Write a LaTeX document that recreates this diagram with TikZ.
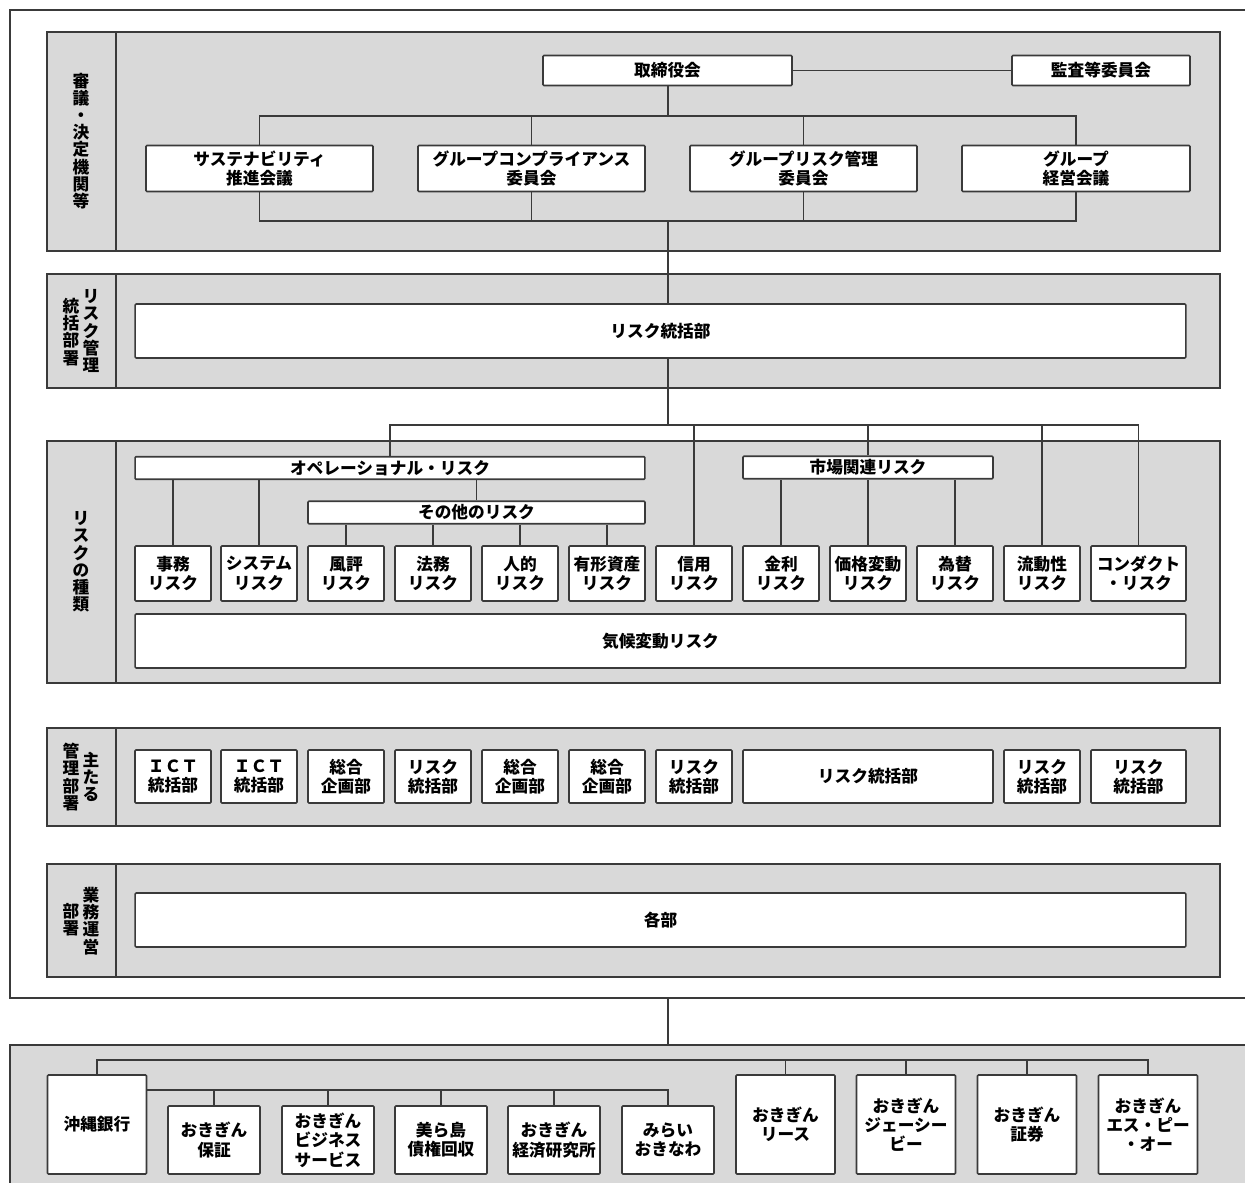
\documentclass[tikz,border=0pt]{standalone}
\usepackage{fontspec}
\setmainfont{Noto Sans CJK JP}
\usepackage{tikz}
\definecolor{bandgray}{HTML}{D9D9D9}
\definecolor{edge}{HTML}{3A3A3A}
\tikzset{
  band/.style={draw=edge, fill=bandgray, line width=0.9pt},
  link/.style={draw=edge, line width=0.7pt},
  box/.style={draw=edge, fill=white, line width=0.9pt, rounded corners=0.6pt, align=center, inner sep=0pt,
    font=\fontsize{9.5}{11}\selectfont\bfseries},
  tag/.style={align=center, inner sep=0pt, font=\fontsize{9.5}{9.8}\selectfont\bfseries},
  council/.style={box, minimum width=4.54cm, minimum height=0.92cm},
  small/.style={box, minimum width=1.52cm, minimum height=1.1cm},
  wide/.style={box, minimum width=21.02cm, minimum height=1.08cm},
  strip/.style={box, minimum height=0.45cm},
  firm/.style={box, minimum width=1.98cm, minimum height=1.98cm},
  sub/.style={box, minimum width=1.84cm, minimum height=1.36cm},
}
\begin{document}
\begin{tikzpicture}[x=0.02cm, y=-0.02cm]
  \useasboundingbox (0,0) rectangle (1245,1183);
  \clip (0,0) rectangle (1245,1183);
  \draw[link, line width=0.9pt] (1270,10) -| (10,998) -- (1270,998);
  \draw[band] (10,1045) rectangle (1270,1210);
  \foreach \ya/\yb in {32/251, 274/388, 441/683, 728/826, 864/977} {
    \draw[band] (47,\ya) rectangle (1220,\yb);
    \draw[band] (116,\ya) -- (116,\yb);
  }
  \node[tag] (t1) at (81,141) {審\\議\\・\\決\\定\\機\\関\\等};
  \node[tag] (t2a) at (91,331) {リ\\ス\\ク\\管\\理};
  \node[tag] (t2b) at (71,332) {統\\括\\部\\署};
  \node[tag] (t3) at (81,562) {リ\\ス\\ク\\の\\種\\類};
  \node[tag] (t4a) at (91,777) {主\\た\\る};
  \node[tag] (t4b) at (71,777) {管\\理\\部\\署};
  \node[tag] (t5a) at (91,921) {業\\務\\運\\営};
  \node[tag] (t5b) at (71,920) {部\\署};

  \node[box, minimum width=4.98cm, minimum height=0.6cm] (board) at (667.5,70.5) {取締役会};
  \node[box, minimum width=3.56cm, minimum height=0.6cm] (audit) at (1101,70.5) {監査等委員会};
  \node[council] (sust) at (259.5,168.5) {サステナビリティ\\推進会議};
  \node[council] (comp) at (531.5,168.5) {グループコンプライアンス\\委員会};
  \node[council] (grisk) at (803.5,168.5) {グループリスク管理\\委員会};
  \node[council, minimum width=4.56cm] (gmgmt) at (1076,168.5) {グループ\\経営会議};

  \node[wide] (rdept) at (660.5,331) {リスク統括部};

  \node[strip, minimum width=10.2cm] (ope) at (390,468) {オペレーショナル・リスク};
  \node[strip, minimum width=6.74cm] (other) at (476.5,512.5) {その他のリスク};
  \node[strip, minimum width=5cm] (market) at (868,467.5) {市場関連リスク};
  \node[small] (jimu) at (173,573.5) {事務\\リスク};
  \node[small] (system) at (259,573.5) {システム\\リスク};
  \node[small] (fuhyo) at (346,573.5) {風評\\リスク};
  \node[small] (homu) at (433,573.5) {法務\\リスク};
  \node[small] (jinteki) at (520,573.5) {人的\\リスク};
  \node[small] (yukei) at (607,573.5) {有形資産\\リスク};
  \node[small] (credit) at (694,573.5) {信用\\リスク};
  \node[small] (kinri) at (781,573.5) {金利\\リスク};
  \node[small] (kakaku) at (868,573.5) {価格変動\\リスク};
  \node[small] (kawase) at (955,573.5) {為替\\リスク};
  \node[small] (liq) at (1042,573.5) {流動性\\リスク};
  \node[small, minimum width=1.9cm] (cond) at (1138.5,573.5) {コンダクト\\・リスク};
  \node[wide] (climate) at (660.5,641) {気候変動リスク};

  \node[small, minimum height=1.06cm] (m1) at (173,776.5) {ＩＣＴ\\統括部};
  \node[small, minimum height=1.06cm] (m2) at (259,776.5) {ＩＣＴ\\統括部};
  \node[small, minimum height=1.06cm] (m3) at (346,776.5) {総合\\企画部};
  \node[small, minimum height=1.06cm] (m4) at (433,776.5) {リスク\\統括部};
  \node[small, minimum height=1.06cm] (m5) at (520,776.5) {総合\\企画部};
  \node[small, minimum height=1.06cm] (m6) at (607,776.5) {総合\\企画部};
  \node[small, minimum height=1.06cm] (m7) at (694,776.5) {リスク\\統括部};
  \node[small, minimum height=1.06cm, minimum width=5cm] (m8) at (868,776.5) {リスク統括部};
  \node[small, minimum height=1.06cm] (m9) at (1042,776.5) {リスク\\統括部};
  \node[small, minimum height=1.06cm, minimum width=1.9cm] (m10) at (1138.5,776.5) {リスク\\統括部};

  \node[wide] (each) at (660.5,920) {各部};

  \node[firm] (bank) at (97,1124.5) {沖縄銀行};
  \node[sub] (guar) at (214,1140) {おきぎん\\保証};
  \node[sub] (biz) at (328,1140) {おきぎん\\ビジネス\\サービス};
  \node[sub] (chura) at (441,1140) {美ら島\\債権回収};
  \node[sub] (lab) at (554,1140) {おきぎん\\経済研究所};
  \node[sub] (mirai) at (668,1140) {みらい\\おきなわ};
  \node[firm] (lease) at (785.5,1124.5) {おきぎん\\リース};
  \node[firm] (jcb) at (906,1124.5) {おきぎん\\ジェーシー\\ビー};
  \node[firm] (sec) at (1027,1124.5) {おきぎん\\証券};
  \node[firm] (spo) at (1148,1124.5) {おきぎん\\エス・ピー\\・オー};

  \coordinate (top) at (668,116);
  \coordinate (low) at (668,221);
  \coordinate (mid) at (668,425);
  \coordinate (out) at (668,998);
  \coordinate (in) at (668,1045);
  \coordinate (gbus) at (0,1060);
  \coordinate (sbus) at (0,1090);

  \draw[link] (board) -- (audit);
  \draw[link] (board.south -| top) -- (top);
  \draw[link] (sust.north) |- (top) -| (gmgmt.north);
  \draw[link] (comp.north) -- (comp.north |- top);
  \draw[link] (grisk.north) -- (grisk.north |- top);
  \draw[link] (sust.south) |- (low) -| (gmgmt.south);
  \draw[link] (comp.south) -- (comp.south |- low);
  \draw[link] (grisk.south) -- (grisk.south |- low);
  \draw[link] (low) -- (low |- rdept.north);

  \draw[link] (mid |- rdept.south) -- (mid);
  \draw[link] (ope.north) |- (mid) -| (cond.north);
  \draw[link] (credit.north) -- (credit.north |- mid);
  \draw[link] (market.north) -- (market.north |- mid);
  \draw[link] (liq.north) -- (liq.north |- mid);
  \foreach \n in {jimu, system, other}
    \draw[link] (\n.north) -- (\n.north |- ope.south);
  \foreach \n in {fuhyo, homu, jinteki, yukei}
    \draw[link] (\n.north) -- (\n.north |- other.south);
  \foreach \n in {kinri, kakaku, kawase}
    \draw[link] (\n.north) -- (\n.north |- market.south);

  \draw[link] (out) -- (in);
  \draw[link] (bank.north) |- (gbus -| spo.north) -- (spo.north);
  \foreach \n in {lease, jcb, sec}
    \draw[link] (\n.north) -- (\n.north |- gbus);
  \draw[link] (bank.east |- sbus) -| (mirai.north);
  \foreach \n in {guar, biz, chura, lab}
    \draw[link] (\n.north) -- (\n.north |- sbus);
\end{tikzpicture}
\end{document}
